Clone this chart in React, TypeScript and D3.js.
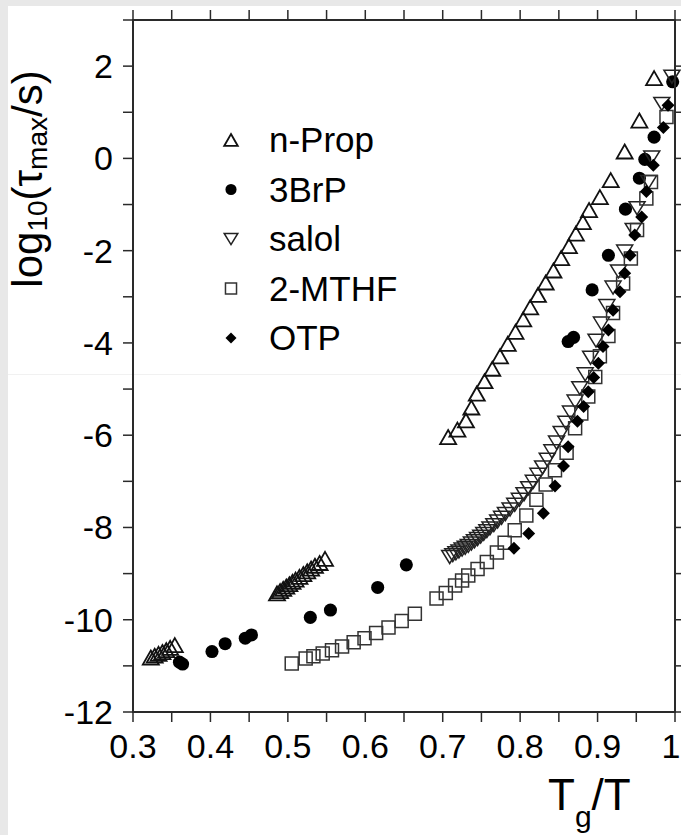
import React from 'react';
import * as d3 from 'd3';

// log10(tau_max / s) against Tg/T for five glass formers
const nProp: [number, number][] = [
  [0.323, -10.82], [0.328, -10.78], [0.333, -10.74], [0.338, -10.70], [0.343, -10.66], [0.348, -10.61], [0.354, -10.55],
  [0.486, -9.43], [0.490, -9.38], [0.494, -9.33], [0.498, -9.28], [0.502, -9.23], [0.506, -9.18], [0.510, -9.13],
  [0.515, -9.07], [0.520, -9.01], [0.525, -8.95], [0.530, -8.89], [0.535, -8.83], [0.541, -8.77], [0.548, -8.68],
  [0.707, -6.04], [0.719, -5.88], [0.730, -5.68], [0.737, -5.40], [0.744, -5.10], [0.754, -4.83], [0.764, -4.56],
  [0.774, -4.29], [0.784, -4.02], [0.794, -3.76], [0.804, -3.49], [0.813, -3.23], [0.823, -2.96], [0.833, -2.69],
  [0.843, -2.43], [0.853, -2.16], [0.863, -1.90], [0.872, -1.63], [0.881, -1.38], [0.889, -1.12], [0.903, -0.84],
  [0.917, -0.47], [0.935, 0.15], [0.954, 0.82], [0.973, 1.74],
];

const brP: [number, number][] = [
  [0.360, -10.92], [0.364, -10.96], [0.402, -10.69], [0.419, -10.52], [0.445, -10.40], [0.453, -10.33],
  [0.529, -9.95], [0.555, -9.79], [0.616, -9.30], [0.653, -8.81], [0.862, -3.97], [0.869, -3.88],
  [0.893, -2.85], [0.914, -2.10], [0.936, -1.10], [0.954, -0.43], [0.961, -0.02], [0.973, 0.46], [0.997, 1.66],
];

const salol: [number, number][] = [
  [0.709, -8.64], [0.713, -8.60], [0.717, -8.56], [0.721, -8.52], [0.725, -8.48], [0.729, -8.44], [0.733, -8.40],
  [0.737, -8.35], [0.741, -8.30], [0.745, -8.25], [0.749, -8.20], [0.753, -8.14], [0.757, -8.08], [0.761, -8.02],
  [0.766, -7.95], [0.771, -7.87], [0.776, -7.79], [0.781, -7.71], [0.787, -7.61], [0.793, -7.51], [0.799, -7.40],
  [0.805, -7.28], [0.811, -7.15], [0.817, -7.01], [0.823, -6.86], [0.829, -6.70], [0.835, -6.53], [0.841, -6.35],
  [0.847, -6.16], [0.853, -5.95], [0.859, -5.73], [0.865, -5.51], [0.871, -5.27], [0.877, -4.98], [0.884, -4.68],
  [0.891, -4.32], [0.898, -3.95], [0.905, -3.58], [0.912, -3.20], [0.920, -2.80], [0.927, -2.45], [0.935, -2.02],
  [0.946, -1.55], [0.951, -1.08], [0.966, -0.51], [0.970, 0.02], [0.983, 1.18], [0.996, 1.77],
];

const mthf: [number, number][] = [
  [0.505, -10.95], [0.523, -10.84], [0.533, -10.79], [0.545, -10.73], [0.557, -10.66], [0.570, -10.58],
  [0.585, -10.49], [0.599, -10.40], [0.614, -10.29], [0.630, -10.17], [0.647, -10.03], [0.664, -9.87],
  [0.692, -9.54], [0.704, -9.42], [0.716, -9.26], [0.725, -9.15], [0.733, -9.04], [0.745, -8.90],
  [0.757, -8.75], [0.770, -8.54], [0.780, -8.33], [0.793, -8.06], [0.808, -7.74], [0.821, -7.40],
  [0.833, -7.07], [0.845, -6.76], [0.860, -6.38], [0.871, -5.85], [0.879, -5.53], [0.888, -5.16],
  [0.897, -4.74], [0.903, -4.29], [0.914, -3.85], [0.920, -3.35], [0.933, -2.71], [0.943, -2.17],
  [0.951, -1.55], [0.963, -0.87], [0.969, -0.51], [0.989, 0.90],
];

const otp: [number, number][] = [
  [0.792, -8.45], [0.811, -8.13], [0.830, -7.69], [0.845, -7.10], [0.856, -6.67], [0.862, -6.25],
  [0.874, -5.70], [0.882, -5.38], [0.888, -5.06], [0.895, -4.75], [0.901, -4.44], [0.907, -4.08],
  [0.914, -3.72], [0.920, -3.29], [0.929, -2.89], [0.935, -2.49], [0.942, -2.10], [0.948, -1.66],
  [0.957, -1.27], [0.963, -0.72], [0.972, -0.15], [0.985, 0.67], [0.991, 1.15],
];

const legendLabels = ['n-Prop', '3BrP', 'salol', '2-MTHF', 'OTP'];
const xLabelTicks = [0.3, 0.4, 0.5, 0.6, 0.7, 0.8, 0.9, 1];
const yLabelTicks = [2, 0, -2, -4, -6, -8, -10, -12];

const W = 681;
const H = 835;
const margin = { top: 20, right: 6, bottom: 123, left: 133 };
const font = '"Liberation Sans", Arial, Helvetica, sans-serif';

// marker paths, centred on their bounding box
const triUp = (w: number, h: number) => `M0,${-h / 2}L${w / 2},${h / 2}L${-w / 2},${h / 2}Z`;
const triDown = (w: number, h: number) => `M0,${h / 2}L${w / 2},${-h / 2}L${-w / 2},${-h / 2}Z`;
const square = (s: number) => `M${-s / 2},${-s / 2}h${s}v${s}h${-s}Z`;
const diamond = (d: number) => `M0,${-d / 2}L${d / 2},0L0,${d / 2}L${-d / 2},0Z`;

type Style = { d: (k: number) => string; fill: string; stroke: string; sw: number };

const styles: Style[] = [
  { d: (k) => triUp(16 * k, 14 * k), fill: 'none', stroke: '#111', sw: 1.8 },
  { d: (k) => d3.symbol(d3.symbolCircle, 135 * k * k)() as string, fill: '#000', stroke: 'none', sw: 0 },
  { d: (k) => triDown(16 * k, 13 * k), fill: 'none', stroke: '#222', sw: 1.5 },
  { d: (k) => square(13 * k), fill: 'none', stroke: '#333', sw: 1.5 },
  { d: (k) => diamond(13 * k), fill: '#000', stroke: 'none', sw: 0 },
];

const seriesData = [nProp, brP, salol, mthf, otp];

export default function App() {
  const x = d3.scaleLinear().domain([0.3, 1]).range([margin.left, W - margin.right]);
  const y = d3.scaleLinear().domain([-12, 3]).range([H - margin.bottom, margin.top]);
  const [x0, x1] = x.range();
  const [y0, y1] = y.range();
  const xTicks = d3.range(0, 15).map((i) => 0.3 + i * 0.05);
  const yTicks = y.ticks(15);
  const tick = 10;
  const axisColor = '#2a2a2a';

  return (
    <div style={{ width: W, height: H }}>
      <style>{`html,body{margin:0;padding:0;overflow:hidden}`}</style>
      <svg width={W} height={H} style={{ display: 'block' }} fontFamily={font}>
        <rect width={W} height={H} fill="#e8e8e8" />
        <rect x={8} y={6} width={W - 8} height={H - 6} fill="#fff" />
        <line x1={8} x2={W} y1={374.5} y2={374.5} stroke="#f1f1f1" strokeWidth={1} />

        {/* data */}
        {seriesData.map((pts, si) => (
          <g key={si}>
            {pts.map(([vx, vy], i) => (
              <path
                key={i}
                d={styles[si].d(1)}
                transform={`translate(${x(vx)},${y(vy)})`}
                fill={styles[si].fill}
                stroke={styles[si].stroke}
                strokeWidth={styles[si].sw}
              />
            ))}
          </g>
        ))}

        {/* frame */}
        <rect x={x0} y={y1} width={x1 - x0} height={y0 - y1} fill="none" stroke={axisColor} strokeWidth={2} />
        {xTicks.map((t, i) => (
          <g key={i} stroke={axisColor} strokeWidth={1.5}>
            <line x1={x(t)} x2={x(t)} y1={y0} y2={y0 + tick} />
            <line x1={x(t)} x2={x(t)} y1={y1} y2={y1 - tick} />
          </g>
        ))}
        {yTicks.map((t, i) => (
          <g key={i} stroke={axisColor} strokeWidth={1.5}>
            <line x1={x0} x2={x0 - tick} y1={y(t)} y2={y(t)} />
            <line x1={x1} x2={x1 + tick} y1={y(t)} y2={y(t)} />
          </g>
        ))}

        {/* tick labels; the last one sits on the right edge as in the source */}
        {xLabelTicks.map((t) => (
          <text key={t} x={t === 1 ? x(t) - 4 : x(t)} y={758} textAnchor="middle" fontSize={34} fill="#000">
            {String(t)}
          </text>
        ))}
        {yLabelTicks.map((t) => (
          <text key={t} x={113} y={y(t) + 12} textAnchor="end" fontSize={34} fill="#000">
            {String(t)}
          </text>
        ))}

        {/* axis titles */}
        <text transform="translate(42,179) rotate(-90)" textAnchor="middle" fontSize={42} fill="#000">
          log
          <tspan fontSize={28} dy={5}>10</tspan>
          <tspan dy={-5}>(τ</tspan>
          <tspan fontSize={28} dy={5}>max</tspan>
          <tspan dy={-5}>/s)</tspan>
        </text>
        <text x={548} y={810} fontSize={44} fill="#000">
          T
          <tspan fontSize={30} dy={17}>g</tspan>
          <tspan dy={-17}>/T</tspan>
        </text>

        {/* legend */}
        {legendLabels.map((name, i) => {
          const ly = 140 + i * 49.5;
          const s = styles[i];
          return (
            <g key={name}>
              <path
                d={s.d(0.85)}
                transform={`translate(231,${ly})`}
                fill={s.fill}
                stroke={s.stroke}
                strokeWidth={s.sw}
              />
              <text x={269} y={ly + 12} fontSize={35} fill="#000">
                {name}
              </text>
            </g>
          );
        })}
      </svg>
    </div>
  );
}
